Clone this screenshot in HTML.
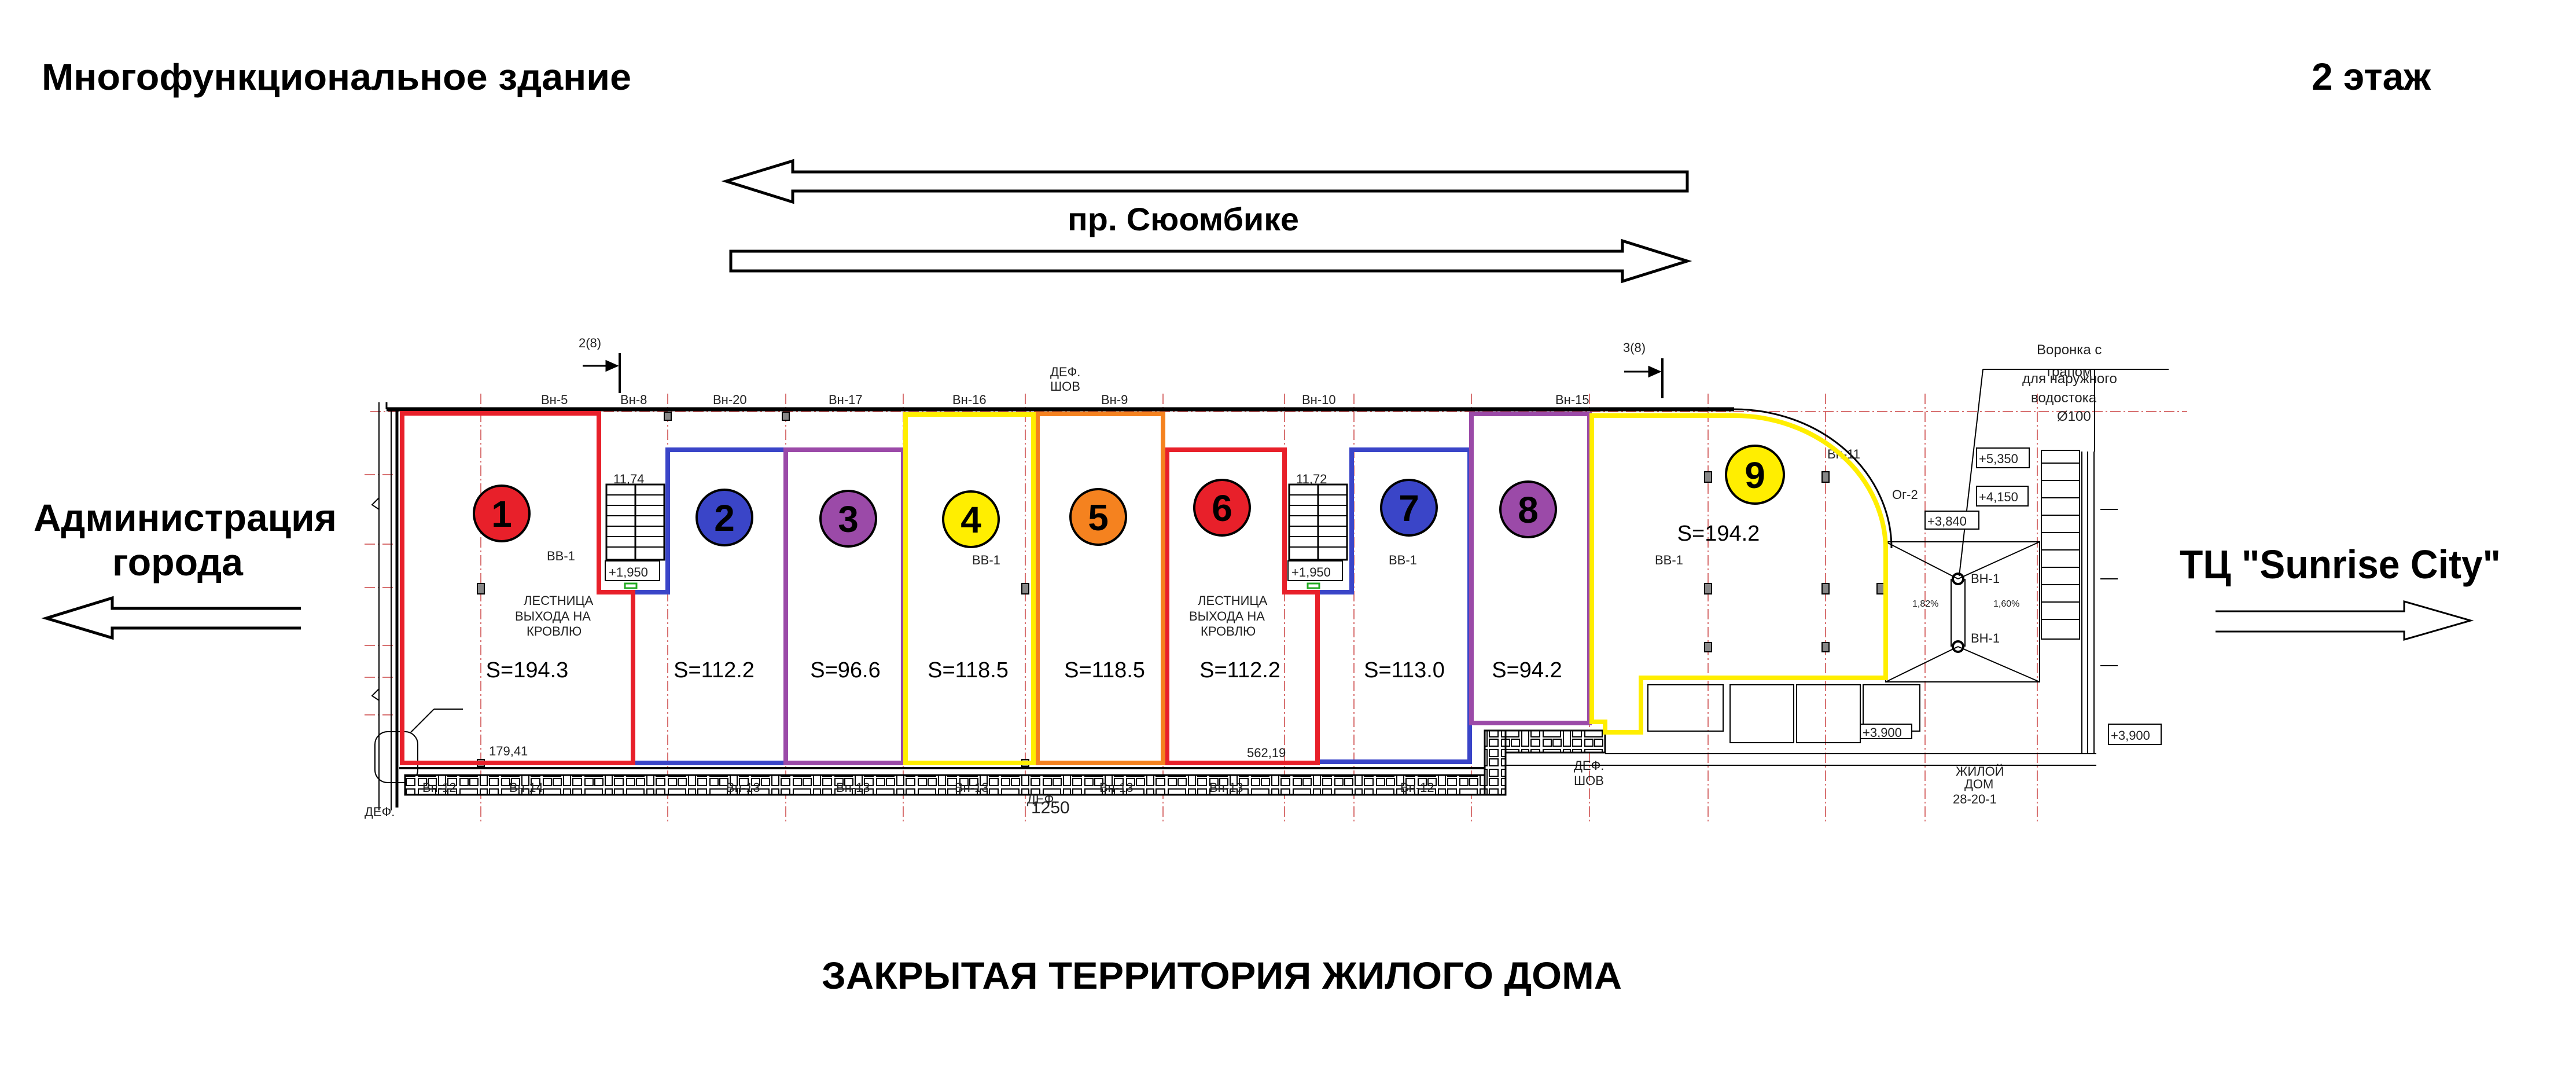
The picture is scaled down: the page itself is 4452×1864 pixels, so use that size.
<!DOCTYPE html>
<html><head><meta charset="utf-8"><style>
html,body{margin:0;padding:0;background:#fff;}
svg{display:block;}
text{font-family:"Liberation Sans","DejaVu Sans",sans-serif;}
.t{font-size:22px;fill:#222;font-family:"Liberation Sans Narrow","Liberation Sans",sans-serif;}
.s{font-size:38px;fill:#000;}
.n{font-size:64px;font-weight:bold;fill:#000;text-anchor:middle;}
.ax{stroke:#c44;stroke-width:1.5;stroke-dasharray:18 5 3 5;fill:none;}
.b{fill:none;stroke:#000;}
</style></head><body>
<svg width="4452" height="1864" viewBox="0 0 4452 1864" xmlns="http://www.w3.org/2000/svg">
<defs>
<pattern id="brk" x="0" y="0" width="72" height="34" patternUnits="userSpaceOnUse">
<rect x="0" y="0" width="72" height="34" fill="#fff"/>
<rect x="3" y="3" width="30" height="12" fill="none" stroke="#000" stroke-width="2"/>
<rect x="38" y="3" width="12" height="28" fill="none" stroke="#000" stroke-width="2"/>
<rect x="54" y="3" width="15" height="12" fill="none" stroke="#000" stroke-width="2"/>
<rect x="3" y="19" width="14" height="12" fill="none" stroke="#000" stroke-width="2"/>
<rect x="20" y="19" width="14" height="12" fill="none" stroke="#000" stroke-width="2"/>
<rect x="54" y="19" width="15" height="12" fill="none" stroke="#000" stroke-width="2"/>
</pattern>
</defs>

<!-- Titles -->
<text x="72" y="155" font-size="64" font-weight="bold" textLength="1019" lengthAdjust="spacingAndGlyphs">Многофункциональное здание</text>
<text x="3995" y="155" font-size="66" font-weight="bold" textLength="206" lengthAdjust="spacingAndGlyphs">2 этаж</text>

<!-- street arrows -->
<path d="M1255,313 L1370,278 V297 H2916 V330 H1370 V349 Z" fill="none" stroke="#000" stroke-width="5" stroke-linejoin="miter"/>
<text x="1845" y="398" font-size="56" font-weight="bold" textLength="400" lengthAdjust="spacingAndGlyphs">пр. Сюомбике</text>
<path d="M2916,451 L2804,486 V468 H1263 V434 H2804 V416 Z" fill="none" stroke="#000" stroke-width="5"/>

<!-- side labels -->
<text x="58" y="917" font-size="66" font-weight="bold" textLength="524" lengthAdjust="spacingAndGlyphs">Администрация</text>
<text x="194" y="994" font-size="66" font-weight="bold" textLength="226" lengthAdjust="spacingAndGlyphs">города</text>
<path d="M520,1051 H194 V1033 L80,1068 L194,1102 V1085 H520" fill="none" stroke="#000" stroke-width="5"/>
<text x="3767" y="999" font-size="70" font-weight="bold" textLength="555" lengthAdjust="spacingAndGlyphs">ТЦ "Sunrise City"</text>
<path d="M3829,1056 H4155 V1039 L4270,1072 L4155,1105 V1091 H3829" fill="none" stroke="#000" stroke-width="3"/>

<text x="1420" y="1708" font-size="66" font-weight="bold" textLength="1383" lengthAdjust="spacingAndGlyphs">ЗАКРЫТАЯ ТЕРРИТОРИЯ ЖИЛОГО ДОМА</text>

<!-- axis lines -->
<g class="ax">
<line x1="640" y1="711" x2="3780" y2="711"/>
<line x1="831" y1="680" x2="831" y2="1420"/>
<line x1="1154" y1="680" x2="1154" y2="1420"/>
<line x1="1358" y1="680" x2="1358" y2="1420"/>
<line x1="1561" y1="680" x2="1561" y2="1420"/>
<line x1="1772" y1="680" x2="1772" y2="1420"/>
<line x1="2010" y1="680" x2="2010" y2="1420"/>
<line x1="2220" y1="680" x2="2220" y2="1420"/>
<line x1="2340" y1="680" x2="2340" y2="1420"/>
<line x1="2543" y1="680" x2="2543" y2="1420"/>
<line x1="2747" y1="680" x2="2747" y2="1420"/>
<line x1="2952" y1="680" x2="2952" y2="1420"/>
<line x1="3155" y1="680" x2="3155" y2="1420"/>
<line x1="3327" y1="680" x2="3327" y2="1420"/>
<line x1="3521" y1="680" x2="3521" y2="1420"/>
<line x1="630" y1="820" x2="690" y2="820"/>
<line x1="630" y1="940" x2="690" y2="940"/>
<line x1="630" y1="1015" x2="690" y2="1015"/>
<line x1="630" y1="1115" x2="690" y2="1115"/>
<line x1="630" y1="1170" x2="690" y2="1170"/>
<line x1="630" y1="1235" x2="690" y2="1235"/>
</g>

<!-- left walls -->
<g class="b">
<line x1="655" y1="695" x2="655" y2="1400" stroke-width="2"/>
<line x1="676" y1="705" x2="676" y2="1400" stroke-width="2"/>
<line x1="686" y1="705" x2="686" y2="1395" stroke-width="5"/>
<path d="M655,860 l-12,12 l12,8" stroke-width="2"/>
<path d="M655,1190 l-12,12 l12,8" stroke-width="2"/>
<rect x="648" y="1264" width="74" height="88" rx="22" stroke-width="2"/>
<line x1="710" y1="1265" x2="750" y2="1225" stroke-width="2"/>
<line x1="750" y1="1225" x2="800" y2="1225" stroke-width="2"/>
</g>
<text x="630" y="1410" class="t">ДЕФ.</text>

<!-- top wall -->
<line x1="668" y1="707" x2="2997" y2="707" stroke="#000" stroke-width="7"/>
<path d="M2997,707 A272,240 0 0 1 3269,947" fill="none" stroke="#000" stroke-width="3"/>
<line x1="668" y1="695" x2="668" y2="707" stroke="#000" stroke-width="3"/>

<!-- bottom hatch band -->
<line x1="690" y1="1327" x2="2600" y2="1327" stroke="#000" stroke-width="4"/>
<rect x="700" y="1339" width="1900" height="34" fill="url(#brk)" stroke="#000" stroke-width="3"/>
<rect x="2566" y="1262" width="208" height="38" fill="url(#brk)" stroke="#000" stroke-width="3"/>
<rect x="2566" y="1262" width="36" height="111" fill="url(#brk)" stroke="#000" stroke-width="3"/>
<g class="t" font-size="24">
<text x="730" y="1368">Вн-12</text><text x="880" y="1368">Вн-14</text><text x="1255" y="1368">Вн-13</text>
<text x="1445" y="1368">Вн-13</text><text x="1650" y="1368">Вн-13</text><text x="1900" y="1368">Вн-13</text>
<text x="2090" y="1368">Вн-13</text><text x="2420" y="1368">Вн-12</text>
</g>

<!-- stairs -->
<g class="b" stroke-width="3">
<rect x="1048" y="837" width="100" height="130"/>
<line x1="1098" y1="837" x2="1098" y2="967"/>
<rect x="2228" y="837" width="100" height="130"/>
<line x1="2278" y1="837" x2="2278" y2="967"/>
</g>
<g stroke="#000" stroke-width="2">
<line x1="1048" y1="855" x2="1148" y2="855"/><line x1="1048" y1="873" x2="1148" y2="873"/><line x1="1048" y1="891" x2="1148" y2="891"/><line x1="1048" y1="909" x2="1148" y2="909"/><line x1="1048" y1="927" x2="1148" y2="927"/><line x1="1048" y1="945" x2="1148" y2="945"/>
<line x1="2228" y1="855" x2="2328" y2="855"/><line x1="2228" y1="873" x2="2328" y2="873"/><line x1="2228" y1="891" x2="2328" y2="891"/><line x1="2228" y1="909" x2="2328" y2="909"/><line x1="2228" y1="927" x2="2328" y2="927"/><line x1="2228" y1="945" x2="2328" y2="945"/>
</g>
<rect x="1046" y="969" width="94" height="34" fill="#fff" stroke="#000" stroke-width="2"/>
<text x="1052" y="996" class="t" font-size="28">+1,950</text>
<rect x="2226" y="969" width="94" height="34" fill="#fff" stroke="#000" stroke-width="2"/>
<text x="2232" y="996" class="t" font-size="28">+1,950</text>
<rect x="1080" y="1008" width="20" height="8" fill="none" stroke="#2a2" stroke-width="3"/>
<rect x="2260" y="1008" width="20" height="8" fill="none" stroke="#2a2" stroke-width="3"/>
<text x="1060" y="835" class="t">11,74</text>
<text x="2240" y="835" class="t">11,72</text>

<!-- section markers -->
<text x="1000" y="600" class="t" font-size="28">2(8)</text>
<line x1="1071" y1="610" x2="1071" y2="679" stroke="#000" stroke-width="4"/>
<path d="M1007,632 H1066 M1048,624 L1066,632 L1048,640 Z" stroke="#000" stroke-width="3" fill="#000"/>
<text x="2805" y="608" class="t" font-size="28">3(8)</text>
<line x1="2873" y1="619" x2="2873" y2="688" stroke="#000" stroke-width="4"/>
<path d="M2807,642 H2868 M2850,634 L2868,642 L2850,650 Z" stroke="#000" stroke-width="3" fill="#000"/>
<text x="1815" y="650" class="t">ДЕФ.</text><text x="1815" y="675" class="t">ШОВ</text>

<!-- top labels -->
<g class="t">
<text x="935" y="698">Вн-5</text><text x="1072" y="698">Вн-8</text><text x="1232" y="698">Вн-20</text>
<text x="1432" y="698">Вн-17</text><text x="1646" y="698">Вн-16</text><text x="1903" y="698">Вн-9</text>
<text x="2250" y="698">Вн-10</text><text x="2688" y="698">Вн-15</text><text x="3158" y="792">Вн-11</text>
</g>

<!-- columns -->
<g fill="#888" stroke="#000" stroke-width="2">
<rect x="825" y="1008" width="12" height="18"/><rect x="1148" y="712" width="12" height="14"/><rect x="1352" y="712" width="12" height="14"/>
<rect x="1766" y="1008" width="12" height="18"/><rect x="825" y="1312" width="12" height="12"/><rect x="1766" y="1312" width="12" height="12"/>
<rect x="2946" y="815" width="12" height="18"/><rect x="3149" y="815" width="12" height="18"/>
<rect x="2946" y="1008" width="12" height="18"/><rect x="3149" y="1008" width="12" height="18"/><rect x="3244" y="1008" width="12" height="18"/>
<rect x="2946" y="1110" width="12" height="16"/><rect x="3149" y="1110" width="12" height="16"/>
</g>

<!-- misc small labels -->
<g class="t">
<text x="945" y="968">ВВ-1</text><text x="1680" y="975">ВВ-1</text><text x="2400" y="975">ВВ-1</text><text x="2860" y="975">ВВ-1</text>
<text x="905" y="1045">ЛЕСТНИЦА</text><text x="890" y="1072">ВЫХОДА НА</text><text x="910" y="1098">КРОВЛЮ</text>
<text x="2070" y="1045">ЛЕСТНИЦА</text><text x="2055" y="1072">ВЫХОДА НА</text><text x="2075" y="1098">КРОВЛЮ</text>
<text x="845" y="1305">179,41</text><text x="2155" y="1308">562,19</text>
<text x="1782" y="1405" font-size="30">1250</text>
<text x="1775" y="1388">ДЕФ.</text>
<text x="2720" y="1330">ДЕФ.</text><text x="2720" y="1356">ШОВ</text>
<text x="3380" y="1340">ЖИЛОЙ</text><text x="3395" y="1362">ДОМ</text><text x="3375" y="1388">28-20-1</text>
<text x="3520" y="612" font-size="24">Воронка с</text><text x="3535" y="650" font-size="24">трапом</text>
<text x="3495" y="662" font-size="24">для наружного</text><text x="3510" y="695" font-size="24">водостока</text><text x="3555" y="727" font-size="24">Ø100</text>
<text x="3270" y="862">Ог-2</text>
<text x="3406" y="1007">ВН-1</text><text x="3406" y="1110">ВН-1</text>
<text x="3305" y="1048" font-size="16">1,82%</text><text x="3445" y="1048" font-size="16">1,60%</text>
</g>
<line x1="3427" y1="638" x2="3748" y2="638" stroke="#000" stroke-width="2"/>
<line x1="3427" y1="638" x2="3386" y2="995" stroke="#000" stroke-width="2"/>
<line x1="3620" y1="638" x2="3620" y2="780" stroke="#000" stroke-width="2"/>

<!-- right drain area -->
<g class="b" stroke-width="2">
<rect x="3259" y="936" width="266" height="242"/>
<line x1="3259" y1="936" x2="3384" y2="1000"/><line x1="3525" y1="936" x2="3384" y2="1000"/>
<line x1="3259" y1="1178" x2="3384" y2="1117"/><line x1="3525" y1="1178" x2="3384" y2="1117"/>
<line x1="3372" y1="1000" x2="3372" y2="1117"/><line x1="3396" y1="1000" x2="3396" y2="1117"/>
<circle cx="3384" cy="1000" r="9" stroke-width="4"/><circle cx="3384" cy="1117" r="9" stroke-width="4"/>
<rect x="3528" y="778" width="66" height="326"/>
<line x1="3598" y1="780" x2="3598" y2="1302"/><line x1="3608" y1="780" x2="3608" y2="1302"/><line x1="3619" y1="780" x2="3619" y2="1302"/>
<line x1="2774" y1="1302" x2="3623" y2="1302"/><line x1="2600" y1="1322" x2="3623" y2="1322"/>
<rect x="2848" y="1183" width="130" height="80"/><rect x="2990" y="1183" width="110" height="100"/>
<rect x="3105" y="1183" width="110" height="100"/><rect x="3220" y="1183" width="98" height="80"/>
<line x1="3630" y1="1150" x2="3660" y2="1150"/><line x1="3630" y1="1000" x2="3660" y2="1000"/><line x1="3630" y1="880" x2="3660" y2="880"/>
</g>
<g stroke="#000" stroke-width="2">
<line x1="3528" y1="800" x2="3594" y2="800"/><line x1="3528" y1="830" x2="3594" y2="830"/><line x1="3528" y1="860" x2="3594" y2="860"/><line x1="3528" y1="890" x2="3594" y2="890"/><line x1="3528" y1="920" x2="3594" y2="920"/><line x1="3528" y1="950" x2="3594" y2="950"/><line x1="3528" y1="980" x2="3594" y2="980"/><line x1="3528" y1="1010" x2="3594" y2="1010"/><line x1="3528" y1="1040" x2="3594" y2="1040"/><line x1="3528" y1="1070" x2="3594" y2="1070"/>
</g>
<g fill="#fff" stroke="#000" stroke-width="2">
<rect x="3416" y="774" width="91" height="34"/><rect x="3416" y="840" width="89" height="34"/>
<rect x="3327" y="883" width="93" height="31"/><rect x="3644" y="1251" width="91" height="35"/>
<rect x="3215" y="1251" width="89" height="25"/>
</g>
<g class="t" font-size="26">
<text x="3420" y="800">+5,350</text><text x="3420" y="866">+4,150</text><text x="3331" y="908">+3,840</text>
<text x="3648" y="1278">+3,900</text><text x="3219" y="1273">+3,900</text>
</g>

<!-- unit outlines -->
<g fill="none" stroke-width="8" stroke-linejoin="miter">
<path d="M1154,777 H1358 V1318 H1094 V1023 H1154 Z" stroke="#3a45c8"/>
<path d="M1358,777 H1561 V1318 H1358 Z" stroke="#9b4aa8"/>
<path d="M2336,777 H2540 V1316 H2277 V1023 H2336 Z" stroke="#3a45c8"/>
<path d="M2543,715 H2747 V1249 H2543 Z" stroke="#9b4aa8"/>
<path d="M695,714 H1035 V1023 H1094 V1318 H695 Z" stroke="#e8202a"/>
<path d="M2017,777 H2220 V1023 H2277 V1318 H2017 Z" stroke="#e8202a"/>
<path d="M1793,715 H2010 V1318 H1793 Z" stroke="#f5821f"/>
<path d="M1565,716 H1786 V1318 H1565 Z" stroke="#ffee00"/>
<path d="M2751,718 H2997 A262,232 0 0 1 3259,950 V1171 H2836 V1265 H2774 V1247 H2751 Z" stroke="#ffee00"/>
</g>

<!-- number circles -->
<g stroke="#000" stroke-width="4">
<circle cx="867" cy="887" r="48" fill="#e8202a"/>
<circle cx="1252" cy="894" r="48" fill="#3a45c8"/>
<circle cx="1466" cy="896" r="48" fill="#9b4aa8"/>
<circle cx="1678" cy="897" r="48" fill="#ffee00"/>
<circle cx="1898" cy="893" r="48" fill="#f5821f"/>
<circle cx="2112" cy="877" r="48" fill="#e8202a"/>
<circle cx="2435" cy="877" r="48" fill="#3a45c8"/>
<circle cx="2641" cy="880" r="48" fill="#9b4aa8"/>
<circle cx="3033" cy="820" r="50" fill="#ffee00"/>
</g>
<g class="n">
<text x="867" y="910">1</text><text x="1252" y="917">2</text><text x="1466" y="919">3</text>
<text x="1678" y="920">4</text><text x="1898" y="916">5</text><text x="2112" y="900">6</text>
<text x="2435" y="900">7</text><text x="2641" y="903">8</text><text x="3033" y="843">9</text>
</g>

<!-- areas -->
<g class="s" text-anchor="middle">
<text x="911" y="1170">S=194.3</text><text x="1234" y="1170">S=112.2</text><text x="1461" y="1170">S=96.6</text>
<text x="1673" y="1170">S=118.5</text><text x="1909" y="1170">S=118.5</text><text x="2143" y="1170">S=112.2</text>
<text x="2427" y="1170">S=113.0</text><text x="2639" y="1170">S=94.2</text><text x="2970" y="934">S=194.2</text>
</g>
</svg>
</body></html>
